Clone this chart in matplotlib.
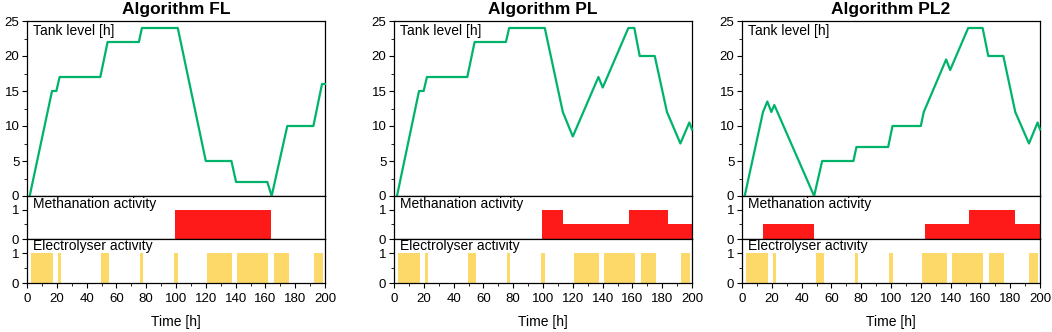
import numpy as np
import matplotlib
matplotlib.use("Agg")
import matplotlib.pyplot as plt
from matplotlib.ticker import MultipleLocator

plt.rcParams['font.family'] = ['Liberation Sans', 'DejaVu Sans']

titles = ["Algorithm FL", "Algorithm PL", "Algorithm PL2"]

# tank level [h]
fl_t = [1.8, 16.8, 19.7, 21.9, 49.2, 54.1, 75.1, 77.1, 101.2, 120, 137.2, 140.3, 161.3, 164.2, 174.7, 192.2, 198, 200]
fl_lvl = [0, 15, 15, 17, 17, 22, 22, 24, 24, 5, 5, 2, 2, 0, 10, 10, 16, 16]

pl_t = [2, 16.8, 19.9, 22.1, 49.2, 54.1, 75.1, 77.3, 101.2, 113.3, 120, 137.2, 140.1, 157.3, 161.3, 164.9, 175, 183.2, 192.2, 198.2, 200]
pl_lvl = [0, 15, 15, 17, 17, 22, 22, 24, 24, 12, 8.5, 17, 15.5, 24, 24, 20, 20, 12, 7.5, 10.5, 9.5]

pl2_t = [1.8, 14.1, 17, 19.7, 21.7, 48.4, 53.8, 74.8, 76.8, 98.1, 101, 120, 122, 137, 139.7, 151.8, 161.5, 165.3, 175.4, 183.4, 192.6, 198.4, 200]
pl2_lvl = [0, 12, 13.5, 12, 13, 0, 5, 5, 7, 7, 10, 10, 12, 19.5, 18, 24, 24, 20, 20, 12, 7.5, 10.5, 9.5]

# methanation activity: start, end, level
fl_meth_start = [99]
fl_meth_end = [163.8]
fl_meth_lvl = [1]

pl_meth_start = [99, 113.5, 157.5, 183.7]
pl_meth_end = [113.5, 157.5, 183.7, 200]
pl_meth_lvl = [1, 0.5, 1, 0.5]

pl2_meth_start = [14.3, 123, 152.5, 183.4]
pl2_meth_end = [48.4, 152.5, 183.4, 200]
pl2_meth_lvl = [0.5, 0.5, 1, 0.5]

# electrolyser activity (same schedule in all three)
elec_start = [2.7, 20.8, 49.8, 75.8, 98.8, 120.9, 140.8, 165.8, 192.8]
elec_end = [17.6, 22.7, 54.7, 77.7, 101.6, 137.6, 161.6, 175.6, 198.7]

tanks = [(fl_t, fl_lvl), (pl_t, pl_lvl), (pl2_t, pl2_lvl)]
meths = [(fl_meth_start, fl_meth_end, fl_meth_lvl),
         (pl_meth_start, pl_meth_end, pl_meth_lvl),
         (pl2_meth_start, pl2_meth_end, pl2_meth_lvl)]

green = "#00b36b"
red = "#ff1a1a"
yellow = "#fdd96a"

fig = plt.figure(figsize=(10.52, 3.32), dpi=100)
W, H = 1052.0, 332.0
lefts = [27, 394, 742]
pw = 298

def style(ax, minor):
    ax.tick_params(which="both", direction="out", labelsize=9.5, pad=2)
    ax.tick_params(axis="x", pad=4)
    ax.tick_params(which="major", length=3.5)
    ax.tick_params(which="minor", length=2)
    ax.yaxis.set_minor_locator(MultipleLocator(minor))
    ax.xaxis.set_major_locator(MultipleLocator(20))
    ax.xaxis.set_minor_locator(MultipleLocator(10))
    ax.set_xlim(0, 200)
    for s in ax.spines.values():
        s.set_linewidth(0.9)

for i in range(3):
    x0 = lefts[i] / W
    w = pw / W
    ax1 = fig.add_axes([x0, 1 - 196 / H, w, 175 / H])
    ax2 = fig.add_axes([x0, 1 - 239 / H, w, 43 / H], sharex=ax1)
    ax3 = fig.add_axes([x0, 1 - 283 / H, w, 44 / H], sharex=ax1)

    t, lvl = tanks[i]
    ax1.plot(t, lvl, color=green, lw=1.6, clip_on=False, zorder=3)
    ax1.set_ylim(0, 25)
    ax1.yaxis.set_major_locator(MultipleLocator(5))
    style(ax1, 2.5)
    ax1.tick_params(axis="x", which="both", length=0, labelbottom=False)
    ax1.text(0.02, 0.985, "Tank level [h]", transform=ax1.transAxes, ha="left", va="top", fontsize=10)
    ax1.set_title(titles[i], fontsize=12.5, fontweight="bold", pad=5)

    st, en, lv = meths[i]
    ax2.bar(st, lv, width=np.array(en) - np.array(st), align="edge", color=red, lw=0)
    ax2.set_ylim(0, 1.48)
    ax2.yaxis.set_major_locator(MultipleLocator(1))
    style(ax2, 0.5)
    ax2.tick_params(axis="x", which="both", length=0, labelbottom=False)
    ax2.text(0.02, 0.98, "Methanation activity", transform=ax2.transAxes, ha="left", va="top", fontsize=10)

    ax3.bar(elec_start, [1] * len(elec_start), width=np.array(elec_end) - np.array(elec_start),
            align="edge", color=yellow, lw=0)
    ax3.set_ylim(0, 1.47)
    ax3.yaxis.set_major_locator(MultipleLocator(1))
    style(ax3, 0.5)
    ax3.text(0.02, 1.0, "Electrolyser activity", transform=ax3.transAxes, ha="left", va="top", fontsize=10)
    ax3.set_xlabel("Time [h]", fontsize=10, labelpad=7)

fig.savefig("out.png", dpi=100)
